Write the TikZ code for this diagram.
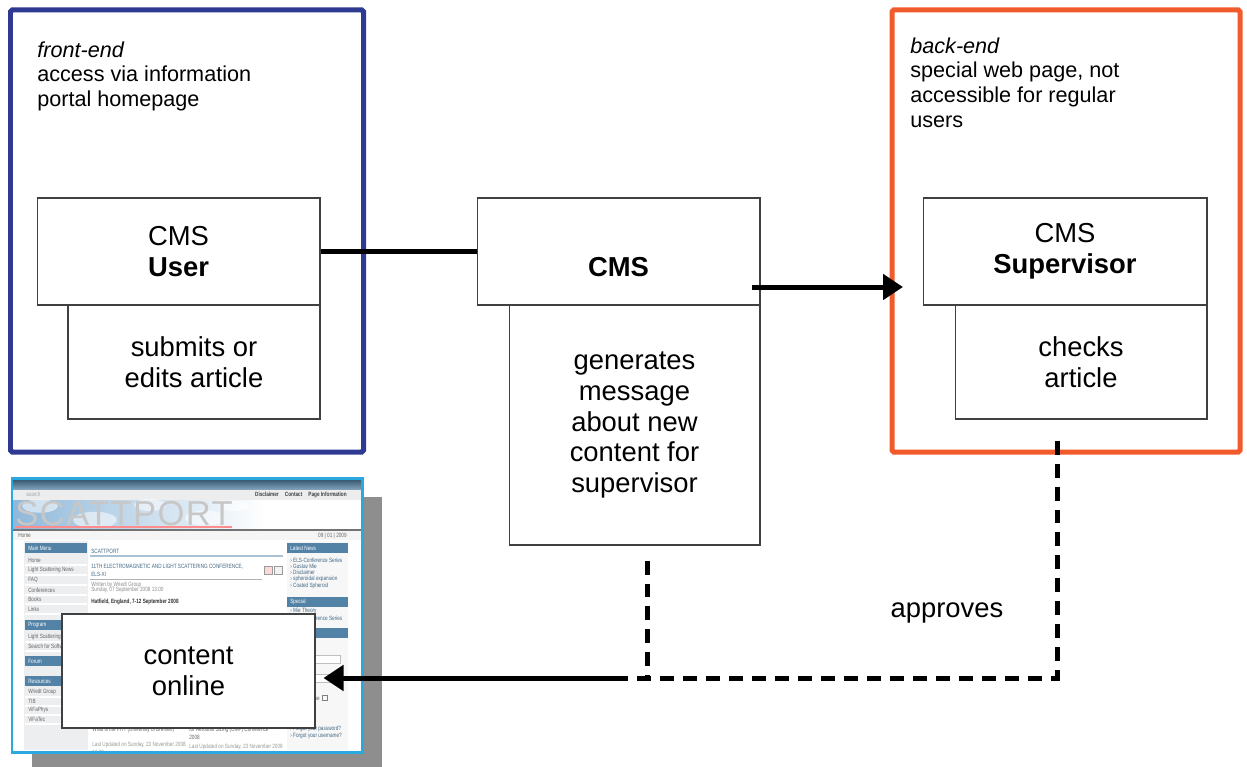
\documentclass[tikz,border=0pt]{standalone}
\usepackage{fontspec}
\setmainfont{Liberation Sans}
\newfontfamily\shotfont[FakeStretch=0.76]{Liberation Sans}
\usetikzlibrary{arrows.meta, positioning}

\definecolor{feblue}{HTML}{2E3992}
\definecolor{beorange}{HTML}{F15A2B}
\definecolor{shotcyan}{HTML}{29A9E0}
\definecolor{menublue}{HTML}{5282A6}
\definecolor{menugray}{HTML}{ECEEF0}
\definecolor{skyblue}{HTML}{8FB8DA}
\definecolor{shadowgray}{HTML}{8E8E8E}

\tikzset{
  box/.style={draw=black!75, line width=0.6pt, fill=white, align=center,
    inner sep=0pt, font=\fontsize{15.6}{17.6}\selectfont},
  frame/.style={line width=0.1cm, rounded corners=1pt},
  note/.style={anchor=north west, align=left, inner sep=0pt,
    font=\fontsize{12.3}{14.2}\selectfont},
  link/.style={line width=0.1cm},
  flow/.style={line width=0.1cm, -{Triangle[length=0.4cm,width=0.5cm]}},
  approve/.style={line width=0.1cm, dash pattern=on 0.28cm off 0.18cm},
  tiny/.style={anchor=west, inner sep=0pt, text=black!60,
    font=\shotfont\fontsize{3.5}{4.2}\selectfont},
  tinybold/.style={tiny, font=\shotfont\fontsize{3.5}{4.2}\selectfont\bfseries},
  tinylink/.style={tiny, text=menublue!80!black},
}

\begin{document}
\begin{tikzpicture}[x=0.02cm, y=-0.02cm]
  \useasboundingbox (0,0) rectangle (1247,767);

  % front-end and back-end areas
  \draw[frame, draw=feblue] (10.5,10) rectangle (363.5,452);
  \draw[frame, draw=beorange] (892,10) rectangle (1240,452);

  \node[note] (fenote) at (37,41) {\textit{front-end}\\access via information\\portal homepage};
  \node[note] (benote) at (910,37) {\textit{back-end}\\special web page, not\\accessible for regular\\users};

  % the three actors
  \node[box, minimum width=5.04cm, minimum height=2.28cm] (submit) at (194,362) {submits or\\edits article};
  \node[box, minimum width=5.66cm, minimum height=2.14cm] (user) at (178.5,251.5) {CMS\\\textbf{User}};
  \node[box, minimum width=5.02cm, minimum height=4.8cm] (notify) at (634.5,425) {generates\\message\\about new\\content for\\supervisor};
  \node[box, minimum width=5.66cm, minimum height=2.14cm, text height=1cm, text depth=0pt] (cms) at (618.5,251.5) {\textbf{CMS}};
  \node[box, minimum width=5.04cm, minimum height=2.28cm] (check) at (1081,362) {checks\\article};
  \node[box, minimum width=5.68cm, minimum height=2.14cm] (super) at (1065,251.5) {CMS\\\textbf{Supervisor}};

  % portal page
  \fill[shadowgray] (32,497) rectangle (382,767);
  \fill[white] (12,478) rectangle (362,752);
  \shade[top color=menublue!70!black, bottom color=menublue!70] (13,480) rectangle (361,490);
  \fill[black!7] (13,490) rectangle (361,500);
  \node[tiny, text=black!35] (search) at (26,494.5) {search};
  \node[tinybold, anchor=east, text=black!75] (toplinks) at (347,494.5) {Disclaimer\quad Contact\quad Page Information};
  \shade[left color=skyblue, right color=white] (13,500) rectangle (265,528);
  \foreach \cx/\cy/\r in {40/506/9, 95/520/11, 150/505/8, 205/518/10, 235/506/7}
    \fill[white, opacity=0.55] (\cx,\cy) ellipse [x radius=\r*0.04cm, y radius=\r*0.015cm];
  \node[inner sep=0pt, text=black!22, font=\fontsize{19.7}{20}\selectfont\addfontfeature{LetterSpace=4}] (banner) at (124,514) {SCATTPORT};
  \draw[red!45, line width=0.6pt] (15,527) -- (232,527);
  \fill[black!55] (13,528.5) rectangle (361,530.5);
  \fill[black!4] (13,530.5) rectangle (361,540);
  \node[tiny] (home) at (18,535.5) {Home};
  \node[tiny, anchor=east] (date) at (347,535.5) {09 | 01 | 2009};

  % left menu
  \fill[menugray] (24,541) rectangle (88,750);
  \foreach \y/\t in {543/Main Menu, 620/Program, 656/Forum, 676/Resources} {
    \fill[menublue] (25,\y) rectangle (87,\y+10);
    \node[tiny, text=white] at (28,\y+5) {\t};
  }
  \foreach \y/\t in {560/Home, 570/Light Scattering News, 580/FAQ, 590/Conferences,
      599/Books, 609/Links, 637/Light Scattering, 646/Search for Software,
      692/Wriedt Group, 701/TIB, 710/ViFaPhys, 719/ViFaTec} {
    \node[tiny] at (28,\y) {\t};
    \draw[white, line width=0.8pt] (25,\y+4.8) -- (87,\y+4.8);
  }

  % article column
  \node[tiny, text=menublue!80!black] (pagetitle) at (91,551) {SCATTPORT};
  \draw[menublue!50, line width=0.8pt] (90,556) -- (283,556);
  \node[tinylink, anchor=north west, align=left] (article) at (91,564) {11TH ELECTROMAGNETIC AND LIGHT SCATTERING CONFERENCE,\\ELS-XI};
  \draw[black!30] (90,579) -- (262,579);
  \draw[black!40, fill=red!15] (264,566) rectangle (272,574);
  \draw[black!40, fill=black!5] (274,566) rectangle (282,574);
  \node[tiny, text=black!45] (author) at (91,584.5) {Written by Wriedt Group};
  \node[tiny, text=black!45] (posted) at (91,590) {Sunday, 07 September 2008 13:00};
  \node[tinybold, text=black!80] (place) at (91,602) {Hatfield, England, 7-12 September 2008};
  \node[tiny] (older) at (92,730) {What is the PHT (University of Bremen)};
  \node[tiny, align=left, anchor=north west] (older2) at (189,727) {for Aerosols Sizing (OMF) Conference\\2008};
  \node[tiny, text=black!40, align=left, anchor=north west] (updated) at (92,742) {Last Updated on Sunday, 23 November 2008\\16:38};
  \node[tiny, text=black!40] (updated2) at (189,747) {Last Updated on Sunday, 23 November 2008};

  % right column
  \fill[black!3] (287,541) rectangle (348,750);
  \foreach \y/\t in {543/Latest News, 597/Special, 628/Login Form} {
    \fill[menublue] (287,\y) rectangle (348,\y+10);
    \node[tiny, text=white] at (290,\y+5) {\t};
  }
  \foreach \y/\t in {560/ELS-Conference Series, 566/Gustav Mie, 572/Disclaimer,
      579/spheroidal expansion, 586/Coated Spheroid, 611/Mie Theory, 618/ELS-Conference Series}
    \node[tinylink] at (290,\y) {› \t};
  \draw[black!25, fill=white] (290,655) rectangle (340,663);
  \draw[black!25, fill=white] (290,674) rectangle (340,682);
  \node[tiny, anchor=east] (remember) at (320,698) {Remember me};
  \draw[black!50] (322,695.5) rectangle (327,700.5);
  \node[tinylink] (lostpw) at (290,729) {› Forgot your password?};
  \node[tinylink] (lostuser) at (290,736) {› Forgot your username?};
  \draw[shotcyan, line width=0.06cm] (12,478) rectangle (362,752);

  \node[box, minimum width=5.06cm, minimum height=2.28cm] (online) at (188.5,671) {content\\online};

  % connectors
  \draw[link] (user) -- (cms);
  \coordinate (superin) at (903,287);
  \draw[flow] ([xshift=-0.18cm]cms.east |- superin) -- (superin);

  \coordinate (turn) at (1057,678);
  \coordinate (merge) at (647,678);
  \coordinate (solid) at (627,678);
  \draw[approve, shorten <=0.42cm] (check.south -| turn) -- (turn) -- (solid);
  \draw[approve, shorten <=0.3cm] (notify.south -| merge) -- (merge);
  \draw[flow, shorten >=0.16cm] (solid) -- (online.east |- solid);
  \node[inner sep=0pt, font=\fontsize{15.6}{17.6}\selectfont] (approves) at (947,613) {approves};
\end{tikzpicture}
\end{document}
